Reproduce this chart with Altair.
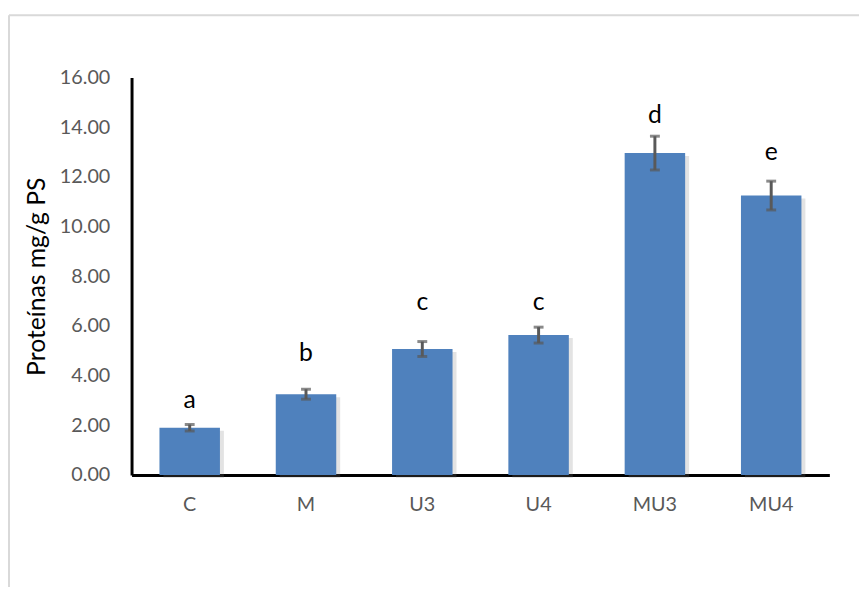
import altair as alt
import pandas as pd

categorias = ["C", "M", "U3", "U4", "MU3", "MU4"]
proteinas = [1.90, 3.25, 5.07, 5.63, 12.96, 11.25]
error = [0.13, 0.20, 0.30, 0.32, 0.68, 0.58]
letras = ["a", "b", "c", "c", "d", "e"]
letra_altura = [3.03, 4.90, 6.97, 6.97, 14.50, 12.99]
y_ticks = [0, 2, 4, 6, 8, 10, 12, 14, 16]

df = pd.DataFrame({
    "cat": categorias,
    "val": proteinas,
    "err": error,
    "letra": letras,
    "ly": letra_altura,
})
df["lo"] = df["val"] - df["err"]
df["hi"] = df["val"] + df["err"]

FONT = "Lato"

x = alt.X(
    "cat:N",
    sort=categorias,
    scale=alt.Scale(paddingInner=0.48, paddingOuter=0.24),
    axis=alt.Axis(
        title=None, labelAngle=0, ticks=False, labelPadding=20,
        labelFontSize=20, labelColor="#595959", labelFont=FONT,
        domainColor="#000000", domainWidth=3,
    ),
)
yscale = alt.Scale(domain=[0, 16], nice=False)
y = alt.Y(
    "val:Q",
    scale=yscale,
    axis=alt.Axis(
        title="Proteínas mg/g PS", values=y_ticks, format=".2f", grid=False,
        ticks=False, labelPadding=22, labelFontSize=20, labelColor="#595959",
        labelFont=FONT, titleFont=FONT, titleFontSize=25, titleFontWeight="normal",
        titleColor="#000000", titlePadding=10,
        domainColor="#000000", domainWidth=3,
    ),
)

base = alt.Chart(df)

shadow = base.mark_bar(color="#7f7f7f", opacity=0.22, xOffset=4, yOffset=3).encode(x=x, y=y)
bars = base.mark_bar(color="#4F81BD").encode(x=x, y=y)
rules = base.mark_rule(color="#595959", strokeWidth=3).encode(
    x=x, y=alt.Y("lo:Q", scale=yscale), y2="hi:Q"
)
caps_lo = base.mark_tick(color="#595959", thickness=3, size=10).encode(
    x=x, y=alt.Y("lo:Q", scale=yscale)
)
caps_hi = base.mark_tick(color="#595959", thickness=3, size=10).encode(
    x=x, y=alt.Y("hi:Q", scale=yscale)
)
text = base.mark_text(fontSize=25, font=FONT, color="#000000", baseline="middle").encode(
    x=x, y=alt.Y("ly:Q", scale=yscale), text="letra:N"
)

frame = pd.DataFrame({"k": [0]})
border_left = alt.Chart(frame).mark_rule(color="#d9d9d9", strokeWidth=2).encode(
    x=alt.value(-124), y=alt.value(-63), y2=alt.value(700)
)
border_top = alt.Chart(frame).mark_rule(color="#d9d9d9", strokeWidth=2).encode(
    x=alt.value(-124), x2=alt.value(900), y=alt.value(-63)
)

chart = alt.layer(
    shadow, bars, rules, caps_lo, caps_hi, text, border_left, border_top
).properties(
    width=706,
    height=402,
    autosize=alt.AutoSizeParams(type="none"),
    padding={"left": 125, "top": 67, "right": 30, "bottom": 110},
).configure_view(stroke=None)

chart.save("out.html", embed_options={"renderer": "svg", "actions": False})
